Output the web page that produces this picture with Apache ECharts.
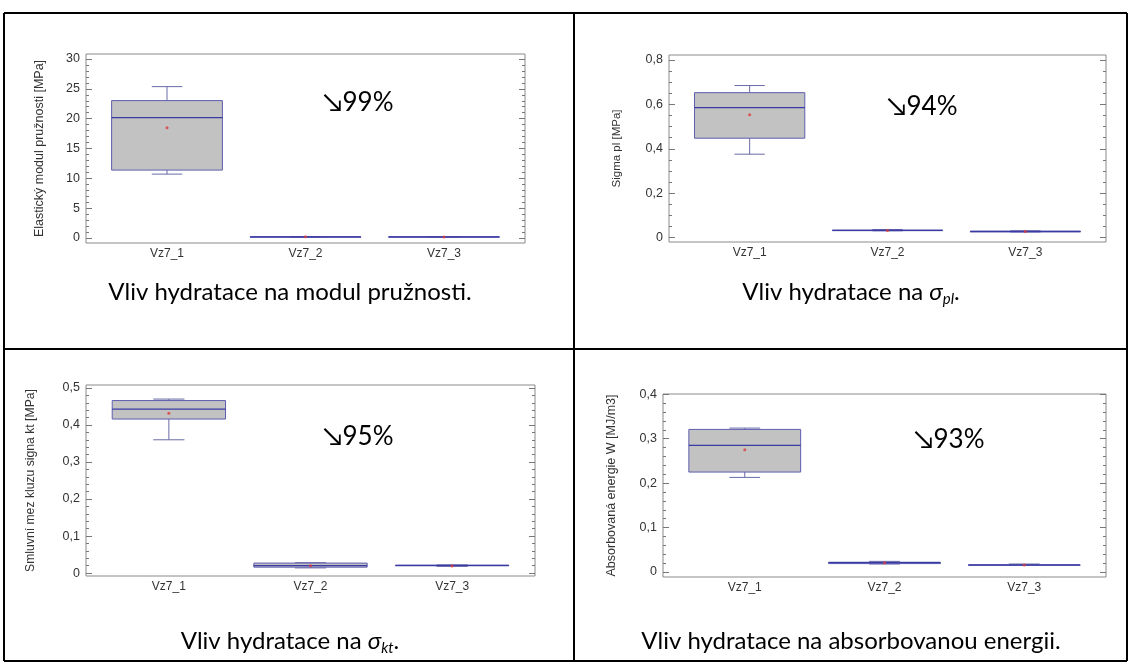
<!DOCTYPE html>
<html>
<head>
<meta charset="utf-8">
<script src="https://cdn.jsdelivr.net/npm/echarts@6/dist/echarts.min.js"></script>
<style>
  html, body { margin: 0; padding: 0; background: #fff; }
  #chart { width: 1130px; height: 670px; }
</style>
</head>
<body>
<div id="chart"></div>
<script>
// Sample groups (x-axis categories)
const groups = ['Vz7_1', 'Vz7_2', 'Vz7_3'];

// Box summaries per group: [min, Q1, median, Q3, max]
const modulBoxes = [
  [10.71, 11.38, 20.18, 23.03, 25.37],
  [0.12, 0.17, 0.19, 0.21, 0.25],
  [0.13, 0.16, 0.18, 0.20, 0.22]
];
const modulMeans = [18.46, 0.19, 0.18];

const sigmaPlBoxes = [
  [0.376, 0.448, 0.586, 0.653, 0.685],
  [0.031, 0.032, 0.033, 0.034, 0.037],
  [0.026, 0.027, 0.028, 0.029, 0.031]
];
const sigmaPlMeans = [0.554, 0.033, 0.028];

const sigmaKtBoxes = [
  [0.360, 0.416, 0.443, 0.466, 0.470],
  [0.014, 0.016, 0.020, 0.027, 0.028],
  [0.018, 0.020, 0.021, 0.021, 0.022]
];
const sigmaKtMeans = [0.432, 0.020, 0.019];

const energyBoxes = [
  [0.213, 0.225, 0.285, 0.321, 0.324],
  [0.018, 0.019, 0.021, 0.022, 0.024],
  [0.015, 0.0155, 0.016, 0.016, 0.018]
];
const energyMeans = [0.275, 0.021, 0.016];

// Y tick labels per panel
const modulTicks = [0, 5, 10, 15, 20, 25, 30];
const sigmaPlTicks = [0, 0.2, 0.4, 0.6, 0.8];
const sigmaKtTicks = [0, 0.1, 0.2, 0.3, 0.4, 0.5];
const energyTicks = [0, 0.1, 0.2, 0.3, 0.4];

// Reduction notes and axis titles
const drops = ['↘99%', '↘94%', '↘95%', '↘93%'];
const axisTitles = [
  'Elastický modul pružnosti [MPa]',
  'Sigma pl [MPa]',
  'Smluvní mez kluzu signa kt [MPa]',
  'Absorbovaná energie W [MJ/m3]'
];

const BOX_W = 0.8;
const CAP_W = 0.22;
const FRAME = '#8a8a8a';
const TICK = '#777';
const LABEL = '#333';
const SANS = 'Liberation Sans, Arial, sans-serif';

function minorTicks(majors, parts) {
  const out = [];
  for (let i = 0; i < majors.length - 1; i++) {
    const a = majors[i], b = majors[i + 1];
    for (let k = 1; k < parts; k++) out.push(+(a + (b - a) * k / parts).toFixed(6));
  }
  return out;
}

const commaFmt = v => String(+v.toFixed(3)).replace('.', ',');

const panels = [
  { grid: { left: 86, top: 54, width: 439, height: 189 }, min: -0.84, max: 30.84,
    ticks: modulTicks, parts: 5, boxes: modulBoxes, means: modulMeans, nameGap: 40, nameSize: 12.5,
    note: [323, 103] },
  { grid: { left: 669, top: 55, width: 437, height: 187 }, min: -0.0193, max: 0.8225,
    ticks: sigmaPlTicks, parts: 4, boxes: sigmaPlBoxes, means: sigmaPlMeans, nameGap: 46, nameSize: 11.5,
    note: [887, 107] },
  { grid: { left: 86, top: 385, width: 449, height: 191 }, min: -0.0079, max: 0.508,
    ticks: sigmaKtTicks, parts: 5, boxes: sigmaKtBoxes, means: sigmaKtMeans, nameGap: 49, nameSize: 12.2,
    note: [323, 437] },
  { grid: { left: 663, top: 394, width: 443, height: 183 }, min: -0.0112, max: 0.4007,
    ticks: energyTicks, parts: 5, boxes: energyBoxes, means: energyMeans, nameGap: 45, nameSize: 12.5,
    note: [914, 440] }
];

function renderBox(params, api) {
  const x = api.value(0);
  const ys = [1, 2, 3, 4, 5].map(d => api.coord([x, api.value(d)])[1]);
  const cx = api.coord([x, 0])[0];
  const half = api.size([BOX_W, 0])[0] / 2;
  const cap = api.size([CAP_W, 0])[0] / 2;
  const [yMin, yQ1, yMed, yQ3, yMax] = ys;
  const whisker = { stroke: '#6a6aa8', lineWidth: 1 };
  return {
    type: 'group',
    children: [
      { type: 'line', shape: { x1: cx, y1: yMax, x2: cx, y2: yQ3 }, style: whisker },
      { type: 'line', shape: { x1: cx, y1: yQ1, x2: cx, y2: yMin }, style: whisker },
      { type: 'line', shape: { x1: cx - cap, y1: yMax, x2: cx + cap, y2: yMax }, style: whisker },
      { type: 'line', shape: { x1: cx - cap, y1: yMin, x2: cx + cap, y2: yMin }, style: whisker },
      { type: 'rect', shape: { x: cx - half, y: yQ3, width: half * 2, height: Math.max(yQ1 - yQ3, 0.5) },
        style: { fill: '#c2c2c2', stroke: '#5e5eb0', lineWidth: 1 } },
      { type: 'line', shape: { x1: cx - half, y1: yMed, x2: cx + half, y2: yMed },
        style: { stroke: '#3a3aa4', lineWidth: 1.3 } }
    ]
  };
}

const grids = [], xAxes = [], yAxes = [], series = [], graphics = [];

panels.forEach((p, i) => {
  grids.push(Object.assign({ show: true, borderColor: FRAME, borderWidth: 1, backgroundColor: 'transparent' }, p.grid));
  xAxes.push({
    type: 'value', gridIndex: i, min: 0.415, max: 3.585,
    axisLine: { show: false }, axisTick: { show: false }, splitLine: { show: false },
    axisLabel: { customValues: [1, 2, 3], formatter: v => groups[Math.round(v) - 1],
      color: LABEL, fontFamily: SANS, fontSize: 12, margin: 5 }
  });
  const minors = minorTicks(p.ticks, p.parts);
  const base = { type: 'value', gridIndex: i, min: p.min, max: p.max, offset: 0,
    axisLine: { show: false }, splitLine: { show: false } };
  const mainIdx = yAxes.length;
  yAxes.push(Object.assign({}, base, {
    position: 'left',
    name: axisTitles[i], nameLocation: 'middle', nameGap: p.nameGap,
    nameTextStyle: { color: LABEL, fontFamily: SANS, fontSize: p.nameSize },
    axisTick: { show: true, inside: true, length: 6, customValues: p.ticks, lineStyle: { color: TICK } },
    axisLabel: { customValues: p.ticks, formatter: commaFmt, color: LABEL,
      fontFamily: SANS, fontSize: 12.5, margin: 6 }
  }));
  yAxes.push(Object.assign({}, base, {
    position: 'left', axisLabel: { show: false },
    axisTick: { show: true, inside: true, length: 3, customValues: minors, lineStyle: { color: TICK } }
  }));
  yAxes.push(Object.assign({}, base, {
    position: 'right', axisLabel: { show: false },
    axisTick: { show: true, inside: true, length: 6, customValues: p.ticks, lineStyle: { color: TICK } }
  }));
  yAxes.push(Object.assign({}, base, {
    position: 'right', axisLabel: { show: false },
    axisTick: { show: true, inside: true, length: 3, customValues: minors, lineStyle: { color: TICK } }
  }));

  series.push({
    type: 'custom', xAxisIndex: i, yAxisIndex: mainIdx, renderItem: renderBox,
    encode: { x: 0, y: [1, 2, 3, 4, 5] },
    data: p.boxes.map((b, k) => [k + 1].concat(b)), z: 2
  });
  series.push({
    type: 'scatter', xAxisIndex: i, yAxisIndex: mainIdx, symbol: 'circle', symbolSize: 3,
    itemStyle: { color: '#de3b3b' }, z: 3,
    data: p.means.map((m, k) => [k + 1, m])
  });

  graphics.push({
    type: 'text', x: p.note[0], y: p.note[1],
    style: { text: drops[i], font: '26px Lato, "Open Sans", sans-serif', fill: '#000', verticalAlign: 'middle' }
  });
});

// Table frame around the four panels
const cellStroke = { stroke: '#000', lineWidth: 2 };
[[4, 13, 1127, 13], [4, 349, 1127, 349], [4, 661, 1127, 661],
 [4, 13, 4, 661], [574, 13, 574, 661], [1127, 13, 1127, 661]].forEach(l => {
  graphics.push({ type: 'line', shape: { x1: l[0], y1: l[1], x2: l[2], y2: l[3] }, style: cellStroke, silent: true });
});

// Captions below each panel
const capFont = 'Lato, "Open Sans", sans-serif';
const capRich = {
  n: { fontSize: 24, fontFamily: capFont, color: '#000', lineHeight: 30 },
  s: { fontSize: 24, fontFamily: capFont, fontStyle: 'italic', color: '#000', lineHeight: 30 },
  sub: { fontSize: 15, fontFamily: capFont, fontStyle: 'italic', color: '#000', lineHeight: 30, verticalAlign: 'bottom', padding: [9, 0, 0, 0] }
};
[
  [290, 292, '{n|Vliv hydratace na modul pružnosti.}'],
  [851, 292, '{n|Vliv hydratace na }{s|σ}{sub|pl}{n|.}'],
  [290, 641, '{n|Vliv hydratace na }{s|σ}{sub|kt}{n|.}'],
  [851, 641, '{n|Vliv hydratace na absorbovanou energii.}']
].forEach(c => {
  graphics.push({
    type: 'text', x: c[0], y: c[1],
    style: { text: c[2], rich: capRich, align: 'center', verticalAlign: 'middle' }
  });
});

const chart = echarts.init(document.getElementById('chart'), null, { renderer: 'canvas' });
chart.setOption({
  animation: false,
  backgroundColor: '#fff',
  grid: grids,
  xAxis: xAxes,
  yAxis: yAxes,
  series: series,
  graphic: graphics
});
</script>
</body>
</html>
